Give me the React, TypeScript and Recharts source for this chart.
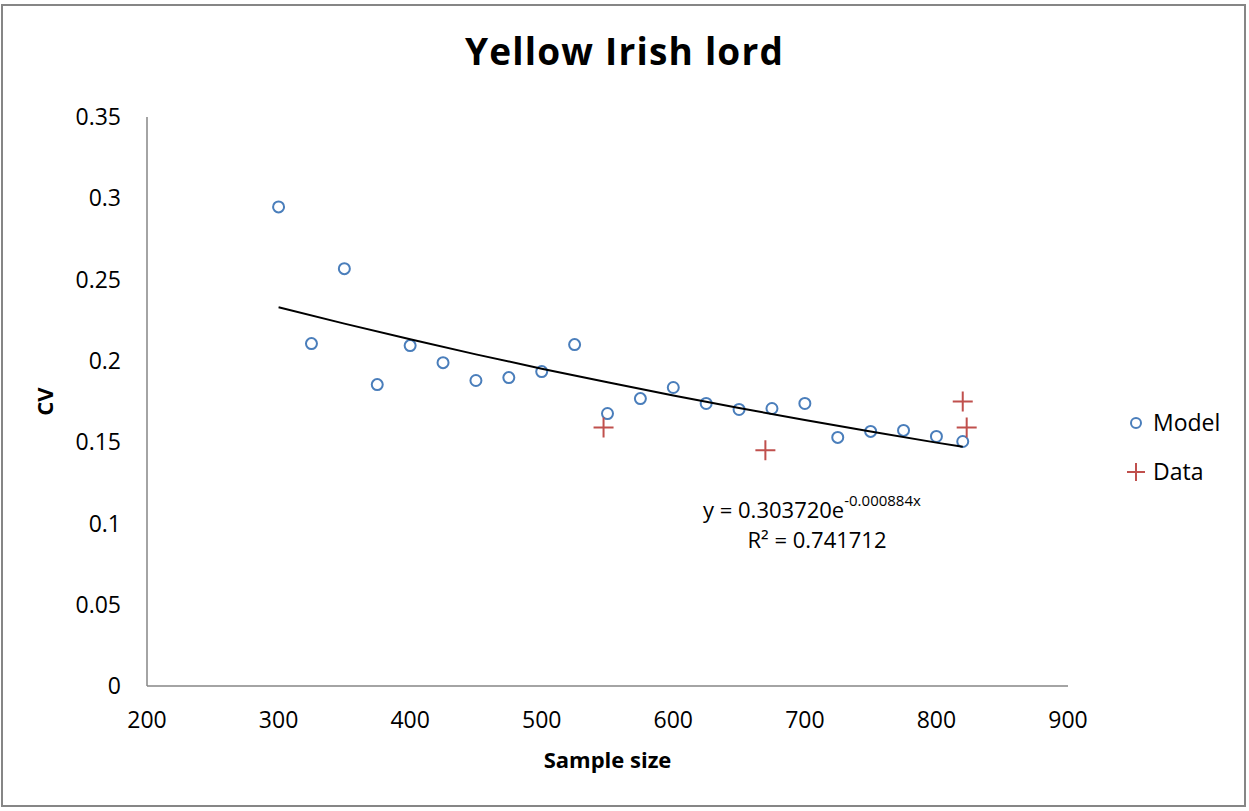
import { Customized, Legend, Scatter, ScatterChart, XAxis, YAxis } from 'recharts';

const FONT = '"Open Sans", sans-serif';

// Model CV by sample size
const modelSize = [300, 325, 350, 375, 400, 425, 450, 475, 500, 525, 550, 575, 600, 625, 650, 675, 700, 725, 750, 775, 800, 820];
const modelCV = [0.2947, 0.2106, 0.2567, 0.1854, 0.2094, 0.1989, 0.1879, 0.1897, 0.1934, 0.21, 0.1676, 0.1768, 0.1836, 0.1738, 0.1701, 0.1707, 0.1738, 0.1529, 0.1566, 0.1572, 0.1535, 0.1504];

// observed data
const dataSize = [547, 670, 820, 823];
const dataCV = [0.159, 0.145, 0.175, 0.159];

// exponential trendline
const trendSize = [300, 350, 400, 450, 500, 550, 600, 650, 700, 750, 800, 820];
const trendCV = [0.233, 0.2229, 0.2133, 0.204, 0.1952, 0.1868, 0.1787, 0.171, 0.1636, 0.1565, 0.1497, 0.1471];

const xTicks = [200, 300, 400, 500, 600, 700, 800, 900];
const yTicks = [0, 0.05, 0.1, 0.15, 0.2, 0.25, 0.3, 0.35];

const BLUE = '#4a7ebb';
const RED = '#c0504d';
const AXIS = '#868686';

const modelData = modelSize.map((x, i) => ({ x, y: modelCV[i] }));
const obsData = dataSize.map((x, i) => ({ x, y: dataCV[i] }));
const trendData = trendSize.map((x, i) => ({ x, y: trendCV[i] }));

const CircleMark = (p: any) => (
  <circle cx={p.cx} cy={p.cy} r={5.5} fill="none" stroke={BLUE} strokeWidth={2} />
);

const PlusMark = (p: any) => (
  <path
    d={`M${p.cx - 10},${p.cy}H${p.cx + 10}M${p.cx},${p.cy - 10}V${p.cy + 10}`}
    stroke={RED}
    strokeWidth={2}
    fill="none"
  />
);

const NoMark = () => <g />;

function LegendBox() {
  return (
    <div style={{ fontFamily: FONT, fontSize: 23, color: '#000', lineHeight: '49px' }}>
      <div style={{ display: 'flex', alignItems: 'center' }}>
        <svg width={22} height={22} style={{ marginRight: 4 }}>
          <circle cx={9} cy={11} r={5} fill="none" stroke={BLUE} strokeWidth={2} />
        </svg>
        Model
      </div>
      <div style={{ display: 'flex', alignItems: 'center' }}>
        <svg width={22} height={22} style={{ marginRight: 4 }}>
          <path d="M0,11H18M9,2V20" stroke={RED} strokeWidth={2} />
        </svg>
        Data
      </div>
    </div>
  );
}

function Equation() {
  return (
    <g fontFamily={FONT} fill="#000">
      <text x={703} y={518} fontSize={22}>
        y = 0.303720e
        <tspan dy={-12} fontSize={15}>-0.000884x</tspan>
      </text>
      <text x={817} y={548} fontSize={22} textAnchor="middle">
        R² = 0.741712
      </text>
    </g>
  );
}

export default function App() {
  return (
    <div style={{ position: 'absolute', left: 0, top: 0, width: 1249, height: 811, background: '#fff' }}>
      <div
        style={{
          position: 'absolute',
          left: 1,
          top: 4,
          width: 1245,
          height: 803,
          border: `2px solid ${AXIS}`,
          boxSizing: 'border-box',
        }}
      />
      <div
        style={{
          position: 'absolute',
          left: 0,
          width: 1249,
          top: 26,
          textAlign: 'center',
          fontFamily: FONT,
          fontWeight: 700,
          fontSize: 37,
          letterSpacing: 1.2,
          lineHeight: '50px',
        }}
      >
        Yellow Irish lord
      </div>
      <ScatterChart
        width={1249}
        height={811}
        margin={{ top: 117, right: 181, bottom: 85, left: 0 }}
        style={{ position: 'absolute', left: 0, top: 0 }}
      >
        <XAxis
          type="number"
          dataKey="x"
          domain={[200, 900]}
          ticks={xTicks}
          tickSize={0}
          tickMargin={26}
          tickLine={false}
          axisLine={{ stroke: AXIS, strokeWidth: 1.5 }}
          tick={{ fill: '#000', fontSize: 23, fontFamily: FONT }}
          height={40}
          label={{
            content: (props: any) => {
              const vb = props.viewBox;
              return (
                <text
                  x={vb.x + vb.width / 2}
                  y={768}
                  textAnchor="middle"
                  fontFamily={FONT}
                  fontWeight={700}
                  fontSize={22}
                  fill="#000"
                >
                  Sample size
                </text>
              );
            },
          }}
        />
        <YAxis
          type="number"
          dataKey="y"
          domain={[0, 0.35]}
          ticks={yTicks}
          tickSize={0}
          tickMargin={26}
          tickLine={false}
          axisLine={{ stroke: AXIS, strokeWidth: 1.5 }}
          tick={{ fill: '#000', fontSize: 23, fontFamily: FONT }}
          width={147}
          label={{
            content: (props: any) => {
              const vb = props.viewBox;
              const cy = vb.y + vb.height / 2;
              return (
                <text
                  x={53}
                  y={cy}
                  transform={`rotate(-90 53 ${cy})`}
                  textAnchor="middle"
                  fontFamily={FONT}
                  fontWeight={700}
                  fontSize={22}
                  fill="#000"
                >
                  CV
                </text>
              );
            },
          }}
        />
        <Legend
          layout="horizontal"
          verticalAlign="middle"
          align="center"
          content={() => <LegendBox />}
          wrapperStyle={{ position: 'absolute', left: 1127, top: 398, width: 120 }}
        />
        <Scatter name="Model" data={modelData} shape={CircleMark} isAnimationActive={false} />
        <Scatter name="Data" data={obsData} shape={PlusMark} isAnimationActive={false} />
        <Scatter
          name="Trend"
          data={trendData}
          shape={NoMark}
          line={{ stroke: '#000', strokeWidth: 2 }}
          lineType="joint"
          legendType="none"
          isAnimationActive={false}
        />
        <Customized component={Equation} />
      </ScatterChart>
    </div>
  );
}
